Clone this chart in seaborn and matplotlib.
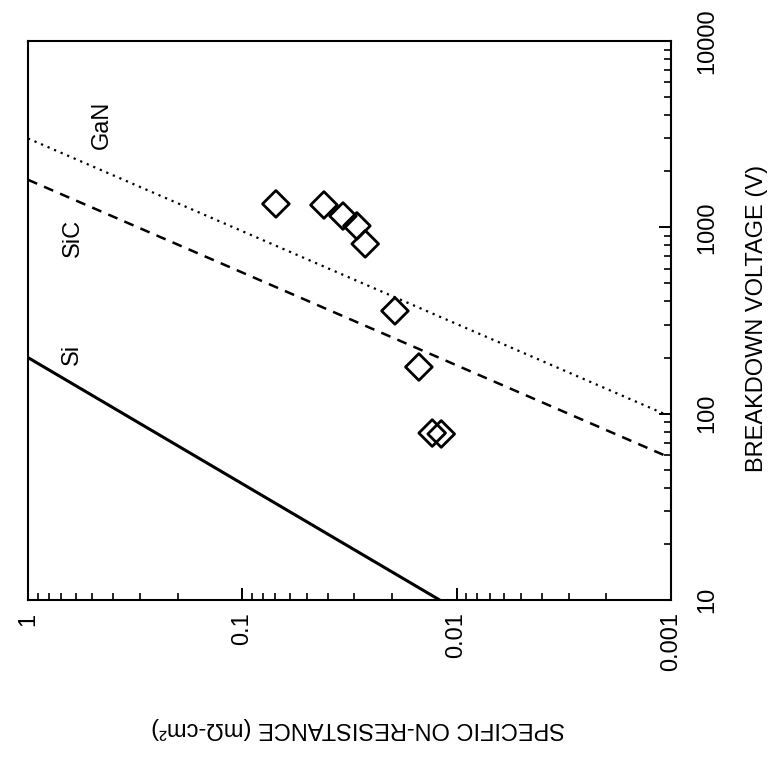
import matplotlib
matplotlib.use("Agg")
import matplotlib.pyplot as plt
import seaborn as sns
import pandas as pd
from matplotlib.ticker import FixedLocator, LogLocator, NullFormatter

# ---- data (breakdown voltage in V, specific on-resistance in mOhm-cm^2) ----
si_voltage = [10, 200]
si_resistance = [0.0120, 1.0]
sic_voltage = [1800, 60]
sic_resistance = [1.0, 0.00108]
gan_voltage = [3000, 100]
gan_resistance = [1.0, 0.00108]

device_voltage = [1336, 1318, 1150, 1018, 815, 356, 178, 78.7, 77.8]
device_resistance = [0.0697, 0.0416, 0.0339, 0.0292, 0.0267, 0.0194, 0.0150, 0.0130, 0.0118]

voltage_ticks = [10, 100, 1000, 10000]
voltage_tick_labels = ["10", "100", "1000", "10000"]
resistance_ticks = [1, 0.1, 0.01, 0.001]
resistance_tick_labels = ["1", "0.1", "0.01", "0.001"]

line_labels = ["Si", "SiC", "GaN"]

sns.set_style("white")
plt.rcParams["font.family"] = ["Liberation Sans Narrow", "Liberation Sans", "DejaVu Sans"]

fig = plt.figure(figsize=(7.79, 7.59), dpi=100)
# The chart is drawn rotated 90 degrees: voltage runs upward, resistance runs leftward.
ax = fig.add_axes([0.0359, 0.2095, 0.8254, 0.7365])

si_df = pd.DataFrame({"R": si_resistance, "V": si_voltage})
sic_df = pd.DataFrame({"R": sic_resistance, "V": sic_voltage})
gan_df = pd.DataFrame({"R": gan_resistance, "V": gan_voltage})
dev_df = pd.DataFrame({"R": device_resistance, "V": device_voltage})

sns.lineplot(data=si_df, x="R", y="V", ax=ax, color="black", lw=2.2,
             sort=False, estimator=None)
sns.lineplot(data=sic_df, x="R", y="V", ax=ax, color="black", lw=1.8,
             sort=False, estimator=None, linestyle=(0, (4, 3)))
sns.lineplot(data=gan_df, x="R", y="V", ax=ax, color="black", lw=1.6,
             sort=False, estimator=None, linestyle=(0, (1, 2.2)))
sns.scatterplot(data=dev_df, x="R", y="V", ax=ax, marker="D", s=185,
                facecolor="none", edgecolor="black", linewidth=2.0, zorder=5)

ax.set_xscale("log")
ax.set_yscale("log")
ax.set_xlim(1, 0.001)
ax.set_ylim(10, 10000)

for sp in ax.spines.values():
    sp.set_linewidth(1.5)
    sp.set_color("black")

# voltage axis on the right
ax.yaxis.tick_right()
ax.yaxis.set_major_locator(FixedLocator(voltage_ticks))
ax.yaxis.set_minor_locator(LogLocator(base=10, subs=range(2, 10)))
ax.yaxis.set_minor_formatter(NullFormatter())
ax.set_yticklabels(voltage_tick_labels, rotation=90, va="center", ha="left")

# resistance axis at the bottom
ax.xaxis.set_major_locator(FixedLocator(resistance_ticks))
ax.xaxis.set_minor_locator(LogLocator(base=10, subs=range(2, 10)))
ax.xaxis.set_minor_formatter(NullFormatter())
ax.set_xticklabels(resistance_tick_labels, rotation=90, va="top", ha="center")

ax.tick_params(axis="both", which="both", direction="in", color="black",
               labelsize=17, labelcolor="black")
ax.tick_params(axis="y", which="both", left=False, right=True, pad=18)
ax.tick_params(axis="x", which="both", bottom=True, top=False, pad=9)
ax.tick_params(which="major", length=9, width=1.4)
ax.tick_params(which="minor", length=5, width=1.2)
ax.set_xlabel("")
ax.set_ylabel("")

fig.text(757 / 779, 1 - 318 / 759, "BREAKDOWN VOLTAGE (V)", rotation=90,
         fontsize=17, ha="center", va="center", color="black")
fig.text(358 / 779, 1 - 728 / 759, "SPECIFIC ON-RESISTANCE (mΩ-cm²)", rotation=180,
         fontsize=17, ha="center", va="center", color="black")

label_pos = [(0.069, 0.44), (0.070, 0.648), (0.115, 0.850)]
for name, (px, py) in zip(line_labels, label_pos):
    ax.text(px, py, name, transform=ax.transAxes, rotation=90, fontsize=17,
            ha="center", va="center", color="black")

ax.set_facecolor("white")
fig.patch.set_facecolor("white")
fig.savefig("out.png", dpi=100, facecolor="white")
